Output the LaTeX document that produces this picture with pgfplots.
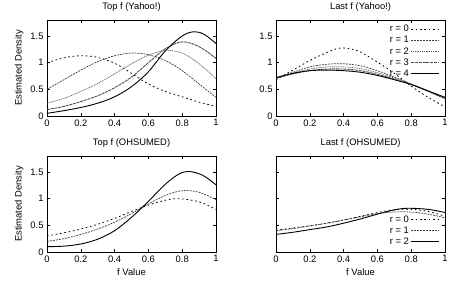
\documentclass[border=0pt]{standalone}
\usepackage{fontspec}
\setmainfont{Liberation Sans}
\usepackage{pgfplots}
\pgfplotsset{compat=1.18}

% line styles for the rounds r = 0 ... 4
\tikzset{
  r0/.style={black, line width=0.8bp, dash pattern=on 1.6bp off 2.8bp},
  r1/.style={black!75, line width=0.7bp, dash pattern=on 2bp off 1bp},
  r2/.style={black!65, line width=0.7bp, dash pattern=on 1bp off 0.8bp},
  r3/.style={black!70, line width=0.9bp, dash pattern=on 3bp off 0.8bp},
  r4/.style={black, line width=0.9bp},
}

\newcommand\plotfont{\fontsize{9.4bp}{11bp}\selectfont}

\pgfplotsset{
  dens/.style={
    scale only axis, width=169bp, height=96bp,
    xmin=0, xmax=1, ymin=0, ymax=1.8,
    xtick={0,0.2,0.4,0.6,0.8,1},
    ytick={0,0.5,1,1.5},
    yticklabels={0,0.5,1,1.5},
    tick align=inside, major tick length=3bp,
    xtick pos=both, ytick pos=both,
    tick style={black, line width=0.5bp},
    axis line style={line width=0.8bp},
    font=\plotfont,
    /pgf/number format/assume math mode=true,
    ticklabel style={font=\plotfont},
    title style={font=\plotfont, yshift=-1bp},
    label style={font=\plotfont},
    legend plot pos=right,
    legend cell align=right,
    legend style={draw=none, fill=none, font=\fontsize{9.4bp}{9bp}\selectfont,
      inner sep=0pt, row sep=-0.8bp},
    legend image code/.code={\draw[##1] (0bp,0bp) -- (28bp,0bp);},
    every axis plot/.append style={smooth, tension=0.55, mark=none},
  }
}

\begin{document}
\begin{tikzpicture}[x=1bp, y=1bp]
\useasboundingbox (0,0) rectangle (450,282);

% ---------- Top f (Yahoo!) ----------
\begin{axis}[dens, at={(47bp,166bp)}, anchor=south west,
  title={Top f (Yahoo!)}, ylabel={Estimated Density}]
\addplot[r0] coordinates {(0,1.00)(0.1,1.09)(0.2,1.13)(0.3,1.10)(0.4,0.99)(0.5,0.80)(0.6,0.60)(0.7,0.46)(0.8,0.36)(0.9,0.26)(1,0.18)};
\addplot[r1] coordinates {(0,0.50)(0.1,0.68)(0.2,0.86)(0.3,1.02)(0.4,1.13)(0.5,1.18)(0.6,1.15)(0.7,1.04)(0.8,0.85)(0.9,0.60)(1,0.35)};
\addplot[r2] coordinates {(0,0.24)(0.1,0.33)(0.2,0.46)(0.3,0.61)(0.4,0.79)(0.5,0.98)(0.6,1.14)(0.7,1.23)(0.8,1.18)(0.9,0.98)(1,0.70)};
\addplot[r3] coordinates {(0,0.12)(0.1,0.18)(0.2,0.27)(0.3,0.38)(0.4,0.53)(0.5,0.73)(0.6,1.00)(0.7,1.26)(0.8,1.39)(0.9,1.30)(1,1.08)};
\addplot[r4] coordinates {(0,0.05)(0.1,0.10)(0.2,0.16)(0.3,0.24)(0.4,0.36)(0.5,0.55)(0.6,0.83)(0.7,1.22)(0.8,1.50)(0.87,1.58)(0.93,1.53)(1,1.36)};
\end{axis}

% ---------- Last f (Yahoo!) ----------
\begin{axis}[dens, at={(276bp,166bp)}, anchor=south west,
  title={Last f (Yahoo!)},
  legend style={at={(0.97,0.97)}, anchor=north east}]
\addplot[r0] coordinates {(0,0.68)(0.1,0.86)(0.2,1.04)(0.3,1.19)(0.37,1.27)(0.44,1.26)(0.5,1.20)(0.6,1.01)(0.7,0.80)(0.8,0.56)(0.9,0.35)(1,0.17)};
\addlegendentry{r = 0}
\addplot[r1] coordinates {(0,0.70)(0.1,0.82)(0.2,0.92)(0.3,0.97)(0.4,0.98)(0.5,0.94)(0.6,0.85)(0.7,0.73)(0.8,0.60)(0.9,0.46)(1,0.32)};
\addlegendentry{r = 1}
\addplot[r2] coordinates {(0,0.70)(0.1,0.80)(0.2,0.88)(0.3,0.92)(0.4,0.92)(0.5,0.89)(0.6,0.81)(0.7,0.71)(0.8,0.60)(0.9,0.47)(1,0.33)};
\addlegendentry{r = 2}
\addplot[r3] coordinates {(0,0.71)(0.1,0.79)(0.2,0.85)(0.3,0.88)(0.4,0.88)(0.5,0.85)(0.6,0.78)(0.7,0.69)(0.8,0.59)(0.9,0.47)(1,0.34)};
\addlegendentry{r = 3}
\addplot[r4] coordinates {(0,0.72)(0.1,0.80)(0.2,0.85)(0.3,0.86)(0.4,0.85)(0.5,0.82)(0.6,0.76)(0.7,0.68)(0.8,0.59)(0.9,0.47)(1,0.35)};
\addlegendentry{r = 4}
\end{axis}

% ---------- Top f (OHSUMED) ----------
\begin{axis}[dens, at={(47bp,30bp)}, anchor=south west,
  title={Top f (OHSUMED)}, ylabel={Estimated Density}, xlabel={f Value}]
\addplot[r0] coordinates {(0,0.30)(0.1,0.36)(0.2,0.43)(0.3,0.52)(0.4,0.63)(0.5,0.76)(0.6,0.88)(0.7,0.97)(0.78,1.00)(0.9,0.94)(1,0.80)};
\addplot[r1] coordinates {(0,0.20)(0.1,0.25)(0.2,0.33)(0.3,0.43)(0.4,0.56)(0.5,0.72)(0.6,0.90)(0.7,1.06)(0.8,1.15)(0.9,1.12)(1,0.98)};
\addplot[r4] coordinates {(0,0.10)(0.1,0.11)(0.2,0.15)(0.3,0.24)(0.4,0.40)(0.5,0.65)(0.6,0.95)(0.7,1.27)(0.78,1.46)(0.84,1.51)(0.92,1.44)(1,1.26)};
\end{axis}

% ---------- Last f (OHSUMED) ----------
\begin{axis}[dens, at={(276bp,30bp)}, anchor=south west,
  title={Last f (OHSUMED)}, xlabel={f Value}, yticklabels={},
  legend style={at={(0.97,0.04)}, anchor=south east}]
\addplot[r0] coordinates {(0,0.41)(0.1,0.45)(0.2,0.49)(0.3,0.54)(0.4,0.60)(0.5,0.67)(0.6,0.74)(0.7,0.79)(0.8,0.80)(0.9,0.76)(1,0.67)};
\addlegendentry{r = 0}
\addplot[r1] coordinates {(0,0.40)(0.1,0.44)(0.2,0.49)(0.3,0.54)(0.4,0.60)(0.5,0.66)(0.6,0.72)(0.7,0.75)(0.8,0.75)(0.9,0.71)(1,0.64)};
\addlegendentry{r = 1}
\addplot[r4] coordinates {(0,0.33)(0.1,0.37)(0.2,0.42)(0.3,0.47)(0.4,0.54)(0.5,0.62)(0.6,0.71)(0.7,0.79)(0.78,0.82)(0.9,0.80)(1,0.74)};
\addlegendentry{r = 2}
\end{axis}
\end{tikzpicture}
\end{document}
